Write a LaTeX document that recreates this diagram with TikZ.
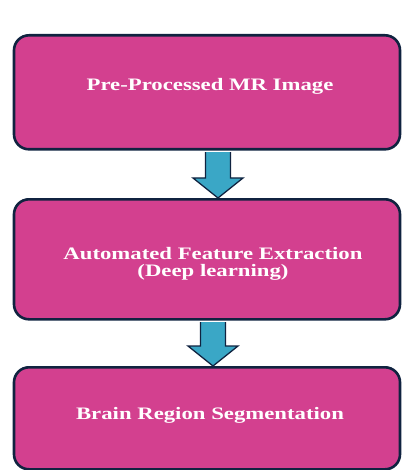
\documentclass[tikz,border=0pt]{standalone}
\usepackage{fontspec}
\setmainfont{Liberation Serif}
\usetikzlibrary{calc}
\definecolor{boxpink}{HTML}{D3408F}
\definecolor{boxline}{HTML}{102340}
\definecolor{arrowteal}{HTML}{3AA7C6}
\newcommand{\widetext}[1]{\scalebox{1.3}[1]{#1}}
\tikzset{
  stage/.style={draw=boxline, line width=2.6pt, fill=boxpink, rounded corners=15pt,
    minimum width=386pt, inner sep=0pt, anchor=north},
  stagetext/.style={text=white, font=\bfseries\fontsize{17.5}{17}\selectfont, align=center},
  flowarrow/.style={draw=boxline, line width=1.3pt, fill=arrowteal, line join=miter}
}
\begin{document}
\begin{tikzpicture}[x=1pt,y=-1pt]
\useasboundingbox (0,0) rectangle (402,470);
% three processing stages
\node[stage, minimum height=114pt] (b1) at (207,34) {};
\node[stage, minimum height=120pt] (b2) at (207,198) {};
\node[stage, minimum height=102pt] (b3) at (207,366) {};
\node[stagetext] (t1) at (210,86) {\widetext{Pre-Processed MR Image}};
\node[stagetext] (t2) at (213,263.5) {\widetext{Automated Feature Extraction}\\\widetext{(Deep learning)}};
\node[stagetext] (t3) at (210,415) {\widetext{Brain Region Segmentation}};
% block arrows between the stages
\coordinate (a1s) at (b1.south -| 218,0);
\coordinate (a1e) at (b2.north -| 218,0);
\coordinate (a2s) at (b2.south -| 213,0);
\coordinate (a2e) at (b3.north -| 213,0);
\draw[flowarrow] ($(a1s)+(-12.5,1.5)$) -- ($(a1e)+(-12.5,-20)$) -- ($(a1e)+(-25,-20)$) -- (a1e)
  -- ($(a1e)+(25,-20)$) -- ($(a1e)+(12.5,-20)$) -- ($(a1s)+(12.5,1.5)$);
\draw[flowarrow] ($(a2s)+(-12.5,1.5)$) -- ($(a2e)+(-12.5,-20)$) -- ($(a2e)+(-25,-20)$) -- (a2e)
  -- ($(a2e)+(25,-20)$) -- ($(a2e)+(12.5,-20)$) -- ($(a2s)+(12.5,1.5)$);
\end{tikzpicture}
\end{document}
